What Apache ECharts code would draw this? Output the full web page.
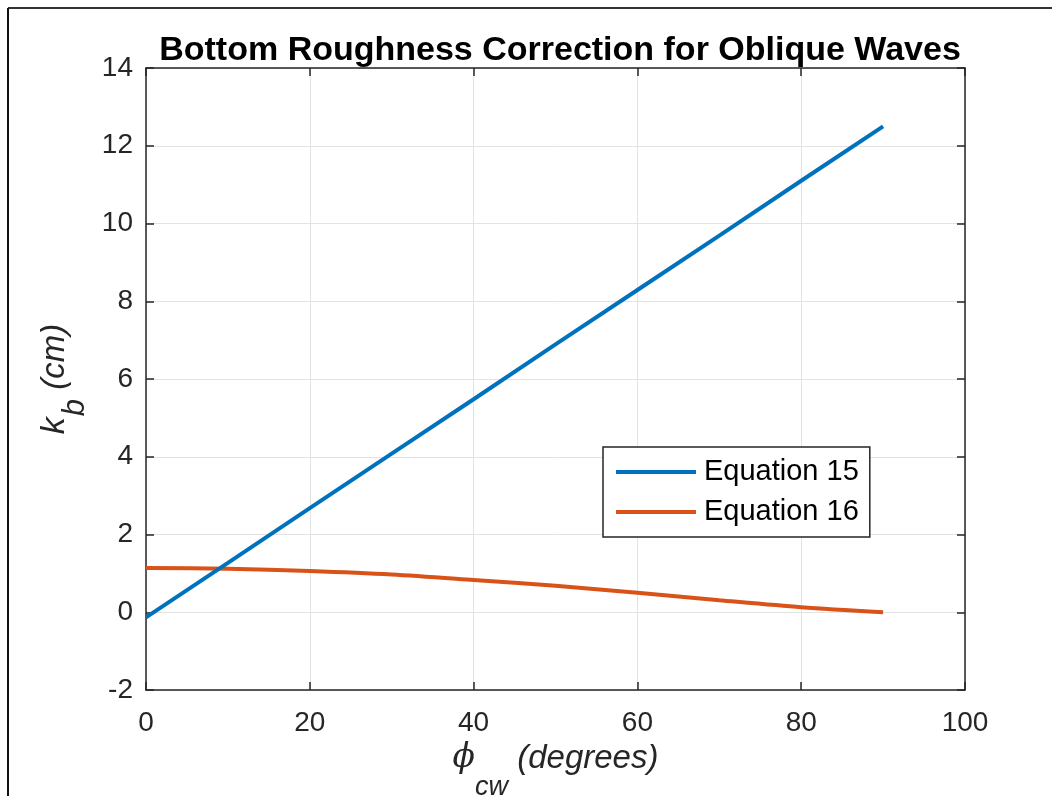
<!DOCTYPE html>
<html>
<head>
<meta charset="utf-8">
<script src="https://cdn.jsdelivr.net/npm/echarts@6/dist/echarts.min.js"></script>
<style>
html,body{margin:0;padding:0;background:#fff;}
#chart{width:1052px;height:796px;}
</style>
</head>
<body>
<div id="chart"></div>
<script>
const titleText = 'Bottom Roughness Correction for Oblique Waves';
const phi = [0, 10, 20, 30, 40, 50, 60, 70, 80, 90];
const eq15 = [-0.13, 1.27, 2.68, 4.08, 5.48, 6.89, 8.29, 9.69, 11.10, 12.50];
const eq16 = [1.14, 1.12, 1.06, 0.97, 0.83, 0.68, 0.50, 0.31, 0.13, 0.00];
const seriesNames = ['Equation 15', 'Equation 16'];
const xTicks = [0, 20, 40, 60, 80, 100];
const yTicks = [-2, 0, 2, 4, 6, 8, 10, 12, 14];

const font = 'Liberation Sans, Arial, Helvetica, sans-serif';
const axisColor = '#262626';
const chart = echarts.init(document.getElementById('chart'), null, {renderer: 'canvas'});

const baseX = {
  type: 'value', min: xTicks[0], max: xTicks[xTicks.length - 1], interval: 20,
  axisLine: {show: true, onZero: false, lineStyle: {color: axisColor, width: 1.5}},
  axisTick: {show: true, inside: true, length: 8, lineStyle: {color: axisColor, width: 1.5}},
  splitLine: {show: false}
};
const baseY = {
  type: 'value', min: yTicks[0], max: yTicks[yTicks.length - 1], interval: 2,
  axisLine: {show: true, onZero: false, lineStyle: {color: axisColor, width: 1.5}},
  axisTick: {show: true, inside: true, length: 8, lineStyle: {color: axisColor, width: 1.5}},
  splitLine: {show: false}
};

chart.setOption({
  animation: false,
  backgroundColor: '#ffffff',
  title: {
    text: titleText, left: 555, top: 29, textAlign: 'center',
    textStyle: {fontFamily: font, fontWeight: 'bold', fontSize: 34, color: '#000'}
  },
  grid: {left: 146, right: 87, top: 68, bottom: 106, containLabel: false, outerBoundsMode: 'none'},
  legend: {
    orient: 'vertical', left: 603, top: 447,
    backgroundColor: '#fff', borderColor: axisColor, borderWidth: 1.5,
    padding: [5, 11, 5, 13], itemGap: 0,
    icon: 'rect', itemWidth: 80, itemHeight: 4,
    textStyle: {fontFamily: font, fontSize: 29, color: '#000', lineHeight: 40, padding: [0, 0, 0, 3]},
    data: seriesNames
  },
  xAxis: [
    Object.assign({}, baseX, {
      position: 'bottom',
      name: '{g|ϕ}{s|cw}{t| (degrees)}', nameLocation: 'middle', nameGap: 47,
      nameTextStyle: {
        fontFamily: font, fontSize: 33, color: '#262626',
        rich: {
          g: {fontFamily: 'DejaVu Serif, serif', fontStyle: 'italic', fontSize: 33, color: '#262626', verticalAlign: 'top', lineHeight: 36},
          s: {fontFamily: font, fontStyle: 'italic', fontSize: 27, color: '#262626', verticalAlign: 'top', lineHeight: 30, padding: [32, 0, 0, 0]},
          t: {fontFamily: font, fontStyle: 'italic', fontSize: 33, color: '#262626', verticalAlign: 'top', lineHeight: 36}
        }
      },
      axisLabel: {fontFamily: font, fontSize: 28, color: '#262626', margin: 19},
      splitLine: {show: true, lineStyle: {color: '#e3e3e3', width: 1}}
    }),
    Object.assign({}, baseX, {position: 'top', axisLabel: {show: false}})
  ],
  yAxis: [
    Object.assign({}, baseY, {
      position: 'left',
      name: '{k|k}{s|b}{t| (cm)}', nameLocation: 'middle', nameGap: 52, nameRotate: 90,
      nameTextStyle: {
        fontFamily: font, fontSize: 33, color: '#262626',
        rich: {
          k: {fontFamily: font, fontStyle: 'italic', fontSize: 34, color: '#262626', verticalAlign: 'top', lineHeight: 36},
          s: {fontFamily: font, fontStyle: 'italic', fontSize: 31, color: '#262626', verticalAlign: 'top', lineHeight: 33, padding: [22, 0, 0, 1]},
          t: {fontFamily: font, fontStyle: 'italic', fontSize: 33, color: '#262626', verticalAlign: 'top', lineHeight: 36}
        }
      },
      axisLabel: {fontFamily: font, fontSize: 28, color: '#262626', margin: 13},
      splitLine: {show: true, lineStyle: {color: '#e3e3e3', width: 1}}
    }),
    Object.assign({}, baseY, {position: 'right', axisLabel: {show: false}})
  ],
  series: [
    {
      name: seriesNames[0], type: 'line', showSymbol: false, symbol: 'none',
      data: phi.map((p, i) => [p, eq15[i]]),
      lineStyle: {color: '#0072BD', width: 4}, itemStyle: {color: '#0072BD'}, z: 3
    },
    {
      name: seriesNames[1], type: 'line', showSymbol: false, symbol: 'none', smooth: 0.3,
      data: phi.map((p, i) => [p, eq16[i]]),
      lineStyle: {color: '#D95319', width: 4}, itemStyle: {color: '#D95319'}, z: 2
    }
  ],
  graphic: [
    {type: 'line', shape: {x1: 8, y1: 8, x2: 1052, y2: 8}, style: {stroke: '#333', lineWidth: 2}},
    {type: 'line', shape: {x1: 8, y1: 8, x2: 8, y2: 796}, style: {stroke: '#111', lineWidth: 2}}
  ]
});
</script>
</body>
</html>
